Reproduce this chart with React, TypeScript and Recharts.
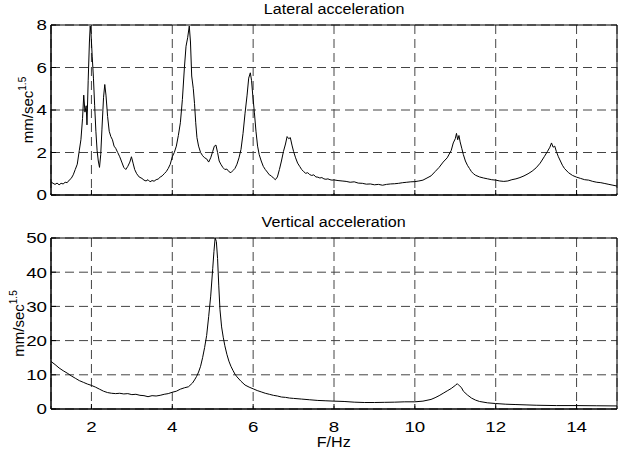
import React from "react";
import {
  LineChart,
  Line,
  XAxis,
  YAxis,
  CartesianGrid,
  ReferenceArea,
  Label,
} from "recharts";

const xTicks = [2, 4, 6, 8, 10, 12, 14];
const latTicks = [0, 2, 4, 6, 8];
const vertTicks = [0, 10, 20, 30, 40, 50];

// lateral spectrum
const latFreq = [
  1.0, 1.05, 1.1, 1.15, 1.2, 1.25, 1.3, 1.35, 1.4, 1.45,
  1.5, 1.55, 1.6, 1.65, 1.7, 1.74, 1.78, 1.81, 1.84, 1.87,
  1.89, 1.92, 1.95, 1.97, 1.99, 2.02, 2.05, 2.08, 2.11, 2.14,
  2.17, 2.2, 2.23, 2.26, 2.3, 2.33, 2.36, 2.4, 2.44, 2.48,
  2.52, 2.56, 2.6, 2.65, 2.7, 2.75, 2.8, 2.85, 2.9, 2.95,
  2.99, 3.03, 3.07, 3.12, 3.18, 3.25, 3.3, 3.35, 3.4, 3.45,
  3.5, 3.55, 3.6, 3.65, 3.7, 3.75, 3.8, 3.85, 3.9, 3.95,
  4.0, 4.05, 4.1, 4.15, 4.2, 4.25, 4.3, 4.34, 4.38, 4.42,
  4.45, 4.48, 4.52, 4.55, 4.58, 4.61, 4.65, 4.7, 4.75, 4.8,
  4.85, 4.9, 4.95, 5.0, 5.04, 5.08, 5.12, 5.16, 5.2, 5.25,
  5.3, 5.35, 5.4, 5.45, 5.5, 5.55, 5.6, 5.65, 5.7, 5.75,
  5.8, 5.85, 5.89, 5.93, 5.96, 5.99, 6.03, 6.07, 6.11, 6.15,
  6.2, 6.25, 6.3, 6.35, 6.4, 6.45, 6.5, 6.55, 6.6, 6.65,
  6.7, 6.75, 6.8, 6.84, 6.88, 6.92, 6.96, 7.0, 7.05, 7.1,
  7.15, 7.2, 7.25, 7.3, 7.35, 7.4, 7.45, 7.5, 7.55, 7.6,
  7.65, 7.7, 7.75, 7.8, 7.85, 7.9, 7.95, 8.0, 8.1, 8.2,
  8.3, 8.4, 8.5, 8.6, 8.7, 8.8, 8.9, 9.0, 9.1, 9.2,
  9.3, 9.4, 9.5, 9.6, 9.7, 9.8, 9.9, 10.0, 10.1, 10.2,
  10.3, 10.4, 10.5, 10.6, 10.7, 10.8, 10.9, 10.95, 11.0, 11.03,
  11.06, 11.09, 11.12, 11.16, 11.2, 11.25, 11.3, 11.35, 11.4, 11.45,
  11.5, 11.6, 11.7, 11.8, 11.9, 12.0, 12.1, 12.2, 12.3, 12.4,
  12.5, 12.6, 12.7, 12.8, 12.9, 13.0, 13.1, 13.2, 13.28, 13.34,
  13.38, 13.42, 13.46, 13.5, 13.55, 13.6, 13.65, 13.7, 13.8, 13.9,
  14.0, 14.1, 14.2, 14.3, 14.4, 14.5, 14.6, 14.7, 14.8, 14.9,
  15.0,
];
const latVal = [
  0.62, 0.55, 0.5, 0.56, 0.48, 0.55, 0.52, 0.6, 0.58, 0.7,
  0.78, 0.95, 1.2, 1.45, 2.1, 2.6, 3.6, 4.7, 3.9, 4.2,
  3.3, 5.4, 7.2, 7.95, 7.6, 6.5, 5.5, 4.2, 3.0, 2.1,
  1.6, 1.3, 1.9, 3.1, 4.6, 5.2, 4.7, 3.7, 3.0, 2.75,
  2.6, 2.3, 2.2, 2.0, 1.8, 1.55, 1.3, 1.2, 1.35, 1.55,
  1.8, 1.5, 1.2, 1.0, 0.85, 0.78, 0.7, 0.66, 0.72, 0.62,
  0.68, 0.65, 0.72, 0.75, 0.84, 0.9, 1.0, 1.1, 1.25, 1.45,
  1.8, 2.0, 2.3, 2.8, 3.4, 4.5, 6.0, 7.0, 7.4, 7.95,
  7.2, 5.6, 5.0, 4.3, 3.4, 2.7, 2.3, 2.0, 1.85, 1.75,
  1.7, 1.55, 1.75, 2.05, 2.3, 2.35, 2.0, 1.6, 1.45, 1.3,
  1.2, 1.22, 1.1, 1.05, 1.15, 1.25, 1.45, 1.75, 2.15, 2.9,
  3.85, 4.7, 5.5, 5.75, 5.4, 4.7, 3.9, 3.0, 2.3, 1.9,
  1.6, 1.35, 1.2, 1.08, 0.95, 0.9, 0.8, 0.72, 0.85, 1.2,
  1.6, 2.05, 2.4, 2.75, 2.65, 2.7, 2.35, 2.05, 1.75, 1.5,
  1.35, 1.2, 1.1, 1.02, 1.05, 0.96, 0.92, 0.95, 0.85, 0.84,
  0.8, 0.82, 0.76, 0.74, 0.76, 0.72, 0.7, 0.71, 0.68, 0.66,
  0.64, 0.6, 0.62, 0.56, 0.55, 0.51, 0.52, 0.48, 0.5, 0.46,
  0.5, 0.52, 0.53, 0.55, 0.58, 0.6, 0.62, 0.63, 0.66, 0.7,
  0.8, 0.9, 1.1, 1.3, 1.55, 1.75, 2.1, 2.45, 2.65, 2.9,
  2.6, 2.8, 2.5, 2.2, 1.9, 1.6, 1.4, 1.25, 1.1, 1.0,
  0.93, 0.85, 0.8, 0.76, 0.72, 0.7, 0.66, 0.64, 0.66, 0.72,
  0.76, 0.82, 0.9, 1.0, 1.12, 1.28, 1.5, 1.8, 2.05, 2.25,
  2.45, 2.25, 2.3, 2.05, 1.8, 1.6, 1.4, 1.25, 1.05, 0.92,
  0.84, 0.78, 0.72, 0.7, 0.64, 0.6, 0.58, 0.54, 0.5, 0.46,
  0.42,
];

// vertical spectrum
const vertFreq = [
  1.0, 1.1, 1.2, 1.3, 1.4, 1.5, 1.6, 1.7, 1.8, 1.9,
  2.0, 2.1, 2.2, 2.3, 2.4, 2.5, 2.6, 2.7, 2.8, 2.9,
  3.0, 3.1, 3.2, 3.3, 3.4, 3.5, 3.6, 3.7, 3.8, 3.9,
  4.0, 4.1, 4.2, 4.3, 4.4, 4.5, 4.55, 4.6, 4.65, 4.7,
  4.75, 4.8, 4.85, 4.9, 4.95, 5.0, 5.03, 5.06, 5.09, 5.12,
  5.15, 5.18, 5.22, 5.26, 5.3, 5.35, 5.4, 5.45, 5.5, 5.55,
  5.6, 5.7, 5.8, 5.9, 6.0, 6.1, 6.2, 6.3, 6.4, 6.5,
  6.6, 6.7, 6.8, 6.9, 7.0, 7.2, 7.4, 7.6, 7.8, 8.0,
  8.25, 8.5, 8.75, 9.0, 9.25, 9.5, 9.75, 10.0, 10.2, 10.4,
  10.5, 10.6, 10.7, 10.8, 10.9, 11.0, 11.05, 11.1, 11.15, 11.2,
  11.3, 11.4, 11.5, 11.6, 11.8, 12.0, 12.25, 12.5, 12.75, 13.0,
  13.5, 14.0, 14.5, 15.0,
];
const vertVal = [
  13.9, 13.0, 12.0, 11.2, 10.5, 9.7, 9.0, 8.3, 7.8, 7.3,
  6.9, 6.4, 5.8, 5.2, 4.8, 4.6, 4.5, 4.6, 4.4, 4.5,
  4.2, 4.3, 4.0, 3.9, 3.6, 3.9, 3.8, 4.0, 4.3, 4.5,
  4.9, 5.2, 5.8, 6.2, 6.5, 7.6, 8.5, 9.5, 10.8, 12.5,
  15.0, 18.0, 21.5, 27.0, 33.0, 41.0, 46.0, 50.0, 49.0, 44.0,
  36.0, 29.0, 24.0, 21.0, 18.5, 16.0, 14.0, 12.5, 11.3, 10.2,
  9.4, 8.1, 7.0, 6.4, 5.9, 5.4, 5.0, 4.6, 4.3, 4.0,
  3.8, 3.5, 3.4, 3.2, 3.1, 2.9, 2.7, 2.5, 2.4, 2.3,
  2.2, 2.0, 1.9, 1.9, 1.95, 2.0, 2.1, 2.1, 2.3, 2.8,
  3.3, 3.9, 4.6, 5.3, 6.0, 6.9, 7.4, 6.8, 6.3, 5.2,
  4.1, 3.2, 2.6, 2.2, 1.8, 1.6, 1.4, 1.3, 1.2, 1.1,
  1.0, 1.0, 0.95, 0.9,
];

const latData = latFreq.map((f, i) => ({ f, v: latVal[i] }));
const vertData = vertFreq.map((f, i) => ({ f, v: vertVal[i] }));

const FONT = "'Liberation Sans', Arial, Helvetica, sans-serif";
const STRETCH = 1.25;

const XTick = ({ x, y, payload }: any) => (
  <text
    transform={`translate(${x},${y}) scale(${STRETCH},1)`}
    textAnchor="middle"
    dy="0.71em"
    fontSize={15}
    fontFamily={FONT}
    fill="#000"
  >
    {payload.value}
  </text>
);

// top plot shares the x axis with the bottom one, so no labels there
const NoTick = () => <g />;

const YTick = ({ x, y, payload }: any) => (
  <text
    transform={`translate(${x},${y}) scale(${STRETCH},1)`}
    textAnchor="end"
    dy="0.36em"
    fontSize={15}
    fontFamily={FONT}
    fill="#000"
  >
    {payload.value}
  </text>
);

const yLabel = (cx: number) => (props: any) => {
  const vb = props.viewBox || {};
  const cy = vb.y + vb.height / 2;
  return (
    <text
      x={cx}
      y={cy}
      transform={`rotate(-90 ${cx} ${cy})`}
      textAnchor="middle"
      fontSize={15}
      fontFamily={FONT}
      fill="#000"
    >
      mm/sec
      <tspan fontSize={10} dy={-7}>
        1.5
      </tspan>
    </text>
  );
};

const titleStyle: React.CSSProperties = {
  position: "absolute",
  left: 51,
  width: 566,
  textAlign: "center",
  fontFamily: FONT,
  fontSize: 14,
  lineHeight: "14px",
  color: "#000",
};

const Title = ({ top, text }: { top: number; text: string }) => (
  <div style={{ ...titleStyle, top }}>
    <span style={{ display: "inline-block", transform: "scaleX(1.15)" }}>{text}</span>
  </div>
);

const gridDash = "9 5";

export default function App() {
  return (
    <div
      style={{
        position: "absolute",
        left: 0,
        top: 0,
        width: 619,
        height: 450,
        background: "#fff",
        overflow: "hidden",
      }}
    >
      <div style={{ position: "absolute", left: 0, top: 0 }}>
        <LineChart
          width={619}
          height={220}
          data={latData}
          margin={{ top: 25, right: 2, bottom: 5, left: 0 }}
        >
          <CartesianGrid stroke="#444" strokeDasharray={gridDash} />
          <XAxis
            dataKey="f"
            type="number"
            domain={[1, 15]}
            ticks={xTicks}
            height={20}
            tick={<NoTick />}
            tickSize={-5}
            stroke="#000"
            allowDataOverflow
          />
          <YAxis
            type="number"
            domain={[0, 8]}
            ticks={latTicks}
            width={51}
            tickSize={-5}
            tickMargin={9}
            tick={<YTick />}
            stroke="#000"
            allowDataOverflow
          >
            <Label content={yLabel(33)} />
          </YAxis>
          <ReferenceArea x1={1} x2={15} y1={0} y2={8} fill="none" stroke="#000" strokeWidth={1} />
          <Line
            dataKey="v"
            type="linear"
            stroke="#000"
            strokeWidth={1}
            dot={false}
            activeDot={false}
            isAnimationActive={false}
          />
        </LineChart>
      </div>

      <div style={{ position: "absolute", left: 0, top: 200 }}>
        <LineChart
          width={619}
          height={250}
          data={vertData}
          margin={{ top: 38, right: 2, bottom: 16, left: 0 }}
        >
          <CartesianGrid stroke="#444" strokeDasharray={gridDash} />
          <XAxis
            dataKey="f"
            type="number"
            domain={[1, 15]}
            ticks={xTicks}
            height={25}
            tickSize={-5}
            tickMargin={17}
            tick={<XTick />}
            stroke="#000"
            allowDataOverflow
          />
          <YAxis
            type="number"
            domain={[0, 50]}
            ticks={vertTicks}
            width={51}
            tickSize={-5}
            tickMargin={9}
            tick={<YTick />}
            stroke="#000"
            allowDataOverflow
          >
            <Label content={yLabel(24)} />
          </YAxis>
          <ReferenceArea x1={1} x2={15} y1={0} y2={50} fill="none" stroke="#000" strokeWidth={1} />
          <Line
            dataKey="v"
            type="linear"
            stroke="#000"
            strokeWidth={1}
            dot={false}
            activeDot={false}
            isAnimationActive={false}
          />
        </LineChart>
      </div>

      <Title top={2} text="Lateral acceleration" />
      <Title top={215} text="Vertical acceleration" />
      <Title top={435} text="F/Hz" />
    </div>
  );
}
